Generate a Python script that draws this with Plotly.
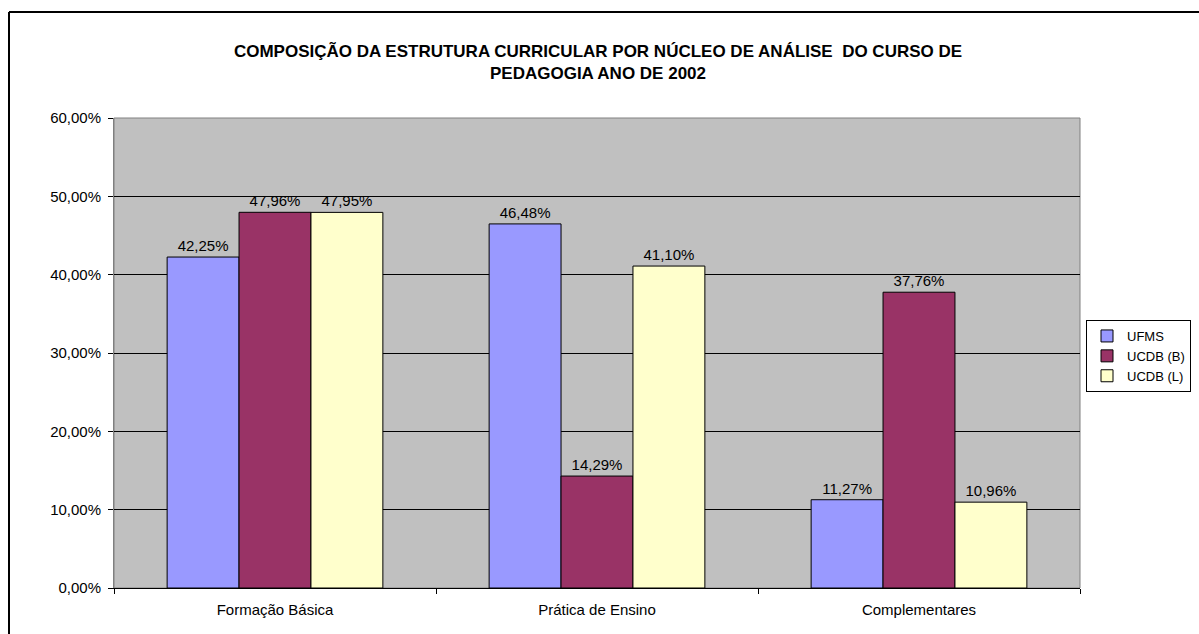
import plotly.graph_objects as go

categories = ["Formação Básica", "Prática de Ensino", "Complementares"]
series_names = ["UFMS", "UCDB (B)", "UCDB (L)"]
ufms = [0.4225, 0.4648, 0.1127]
ucdb_b = [0.4796, 0.1429, 0.3776]
ucdb_l = [0.4795, 0.4110, 0.1096]
colors = ["#9999FF", "#993366", "#FFFFCC"]
y_ticks = [0, 0.1, 0.2, 0.3, 0.4, 0.5, 0.6]

W, H = 1199, 634
L, R, T, B = 114, 1080, 118, 588
FONT = "Liberation Sans, Arial, sans-serif"

fig = go.Figure()
for name, vals, col in zip(series_names, [ufms, ucdb_b, ucdb_l], colors):
    fig.add_trace(go.Bar(
        x=categories, y=vals, name=name,
        marker=dict(color=col, line=dict(color="black", width=1)),
        texttemplate="%{y:.2%}", textposition="outside",
        textfont=dict(family=FONT, size=15, color="black"),
        cliponaxis=False,
    ))

pw = R - L
ph = B - T
fig.update_layout(
    width=W, height=H,
    margin=dict(l=L, r=W - R, t=T, b=H - B, pad=0, autoexpand=False),
    paper_bgcolor="white",
    plot_bgcolor="#C0C0C0",
    separators=",.",
    barmode="group",
    bargap=0.33,
    bargroupgap=0,
    font=dict(family=FONT, size=15, color="black"),
    title=dict(
        text="COMPOSIÇÃO DA ESTRUTURA CURRICULAR POR NÚCLEO DE ANÁLISE  DO CURSO DE<br>PEDAGOGIA ANO DE 2002",
        x=598 / W, xanchor="center", xref="container",
        y=1 - 57 / H, yanchor="middle", yref="container",
        font=dict(family=FONT, size=17, color="black", weight="bold"),
    ),
    legend=dict(
        x=(1086 - L) / pw, xanchor="left",
        y=(B - 320) / ph, yanchor="top",
        bordercolor="black", borderwidth=1,
        bgcolor="white",
        font=dict(family=FONT, size=13),
        itemwidth=30, tracegroupgap=0,
    ),
    xaxis=dict(
        showline=True, linecolor="black", linewidth=1,
        ticks="outside", ticklen=5, tickcolor="black", tickson="boundaries",
        showgrid=False, mirror=False,
        ticklabelstandoff=8,
        tickfont=dict(family=FONT, size=15),
    ),
    yaxis=dict(
        range=[0, 0.6], tickvals=y_ticks, tickformat=".2%",
        showline=True, linecolor="#808080", linewidth=1,
        ticks="outside", ticklen=5, tickcolor="black",
        showgrid=True, gridcolor="black", gridwidth=1,
        zeroline=False,
        ticklabelstandoff=4,
        tickfont=dict(family=FONT, size=15),
    ),
    shapes=[
        dict(type="rect", xref="paper", yref="paper", x0=0, x1=1, y0=0, y1=1,
             line=dict(color="#808080", width=1), layer="below"),
        dict(type="line", xref="paper", yref="paper",
             x0=(9 - L) / pw, x1=(W + 5 - L) / pw,
             y0=(B - 12) / ph, y1=(B - 12) / ph,
             line=dict(color="black", width=2)),
        dict(type="line", xref="paper", yref="paper",
             x0=(9 - L) / pw, x1=(9 - L) / pw,
             y0=(B - 12) / ph, y1=(B - H - 5) / ph,
             line=dict(color="black", width=2)),
    ],
)

fig.write_html("out.html", config={"displayModeBar": False},
               post_script="document.body.style.margin='0';")
